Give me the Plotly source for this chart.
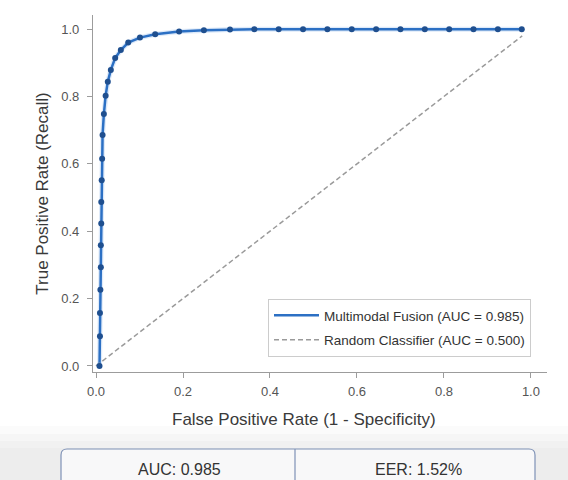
import plotly.graph_objects as go

# ---- data ----
fpr = [0.008, 0.009, 0.009, 0.010, 0.011, 0.011, 0.012, 0.012, 0.013, 0.014,
       0.015, 0.018, 0.022, 0.027, 0.034, 0.044, 0.057, 0.074, 0.101, 0.136,
       0.191, 0.248, 0.308, 0.364, 0.420, 0.476, 0.532, 0.588, 0.644, 0.700,
       0.756, 0.812, 0.868, 0.924, 0.979]
tpr = [0.000, 0.088, 0.157, 0.226, 0.293, 0.358, 0.423, 0.487, 0.551, 0.615,
       0.686, 0.748, 0.802, 0.844, 0.879, 0.914, 0.938, 0.960, 0.975, 0.985,
       0.993, 0.997, 0.999, 1.000, 1.000, 1.000, 1.000, 1.000, 1.000, 1.000,
       1.000, 1.000, 1.000, 1.000, 1.000]
diag_x = [0.0, 0.98]
diag_y = [0.0, 0.98]

fusion_name = "Multimodal Fusion (AUC = 0.985)"
random_name = "Random Classifier (AUC = 0.500)"
x_title = "False Positive Rate (1 - Specificity)"
y_title = "True Positive Rate (Recall)"
tick_vals = [0.0, 0.2, 0.4, 0.6, 0.8, 1.0]
metric_labels = ["AUC: 0.985", "EER: 1.52%"]

# ---- layout geometry (pixels) ----
W, H = 568, 480
L, R, T, B = 93, 547, 15, 372

def px(x):
    return (x - L) / (R - L)

def py(y):
    return (B - y) / (B - T)

FONT = "Arial, 'Liberation Sans', Helvetica, sans-serif"

fig = go.Figure()

# soft glow under the curve
fig.add_trace(go.Scatter(x=fpr, y=tpr, mode="lines", showlegend=False, hoverinfo="skip",
                         legendgroup="fusion",
                         line=dict(color="rgba(90,150,225,0.2)", width=5)))
fig.add_trace(go.Scatter(x=fpr, y=tpr, mode="lines", name=fusion_name, legendgroup="fusion",
                         line=dict(color="#2c70c4", width=2.5)))
fig.add_trace(go.Scatter(x=diag_x, y=diag_y, mode="lines", name=random_name,
                         legendgroup="random",
                         line=dict(color="#9a9a9a", width=1.5, dash="5px,3px")))
fig.add_trace(go.Scatter(x=fpr, y=tpr, mode="markers", showlegend=False, legendgroup="fusion",
                         marker=dict(color="#1f4f8f", size=6)))

axis_common = dict(showgrid=False, zeroline=False, showline=True, linecolor="#9c9c9c",
                   linewidth=1.2, ticks="outside", ticklen=5, tickcolor="#9c9c9c",
                   tickwidth=1, tickvals=tick_vals, tickformat=".1f",
                   tickfont=dict(family=FONT, size=13, color="#555555"))

fig.update_xaxes(range=[-0.007, 1.037], ticklabelstandoff=2, **axis_common)
fig.update_yaxes(range=[-0.018, 1.042], ticklabelstandoff=5,
                 title=dict(text=y_title, font=dict(family=FONT, size=17, color="#3a3a3a"),
                            standoff=8),
                 **axis_common)

# bottom grey band (light gradient)
shapes = []
band = [(426, 434, "#fbfbfb"), (434, 441, "#f6f6f6"), (441, 448, "#f1f1f1"), (448, 485, "#ededed")]
for y0, y1, c in band:
    shapes.append(dict(type="rect", xref="paper", yref="paper", x0=px(-5), x1=px(W + 5),
                       y0=py(y1), y1=py(y0), fillcolor=c, line=dict(width=0), layer="above"))

# rounded metrics box
bx0, bx1, by0, by1, r = 61, 535, 449, 490, 6
path = (f"M {px(bx0)},{py(by1)} L {px(bx0)},{py(by0 + r)} "
        f"Q {px(bx0)},{py(by0)} {px(bx0 + r)},{py(by0)} "
        f"L {px(bx1 - r)},{py(by0)} Q {px(bx1)},{py(by0)} {px(bx1)},{py(by0 + r)} "
        f"L {px(bx1)},{py(by1)} Z")
shapes.append(dict(type="path", xref="paper", yref="paper", path=path,
                   fillcolor="#f8f8f9", line=dict(color="#7f92b6", width=1.2), layer="above"))
shapes.append(dict(type="line", xref="paper", yref="paper", x0=px(295), x1=px(295),
                   y0=py(by0), y1=py(by1), line=dict(color="#7f92b6", width=1.2), layer="above"))

annotations = [
    dict(text=x_title, xref="paper", yref="paper", x=px(303.5), y=py(419),
         xanchor="center", yanchor="middle", showarrow=False,
         font=dict(family=FONT, size=17, color="#3a3a3a")),
    dict(text=metric_labels[0], xref="paper", yref="paper", x=px(179), y=py(469),
         xanchor="center", yanchor="middle", showarrow=False,
         font=dict(family=FONT, size=16, color="#333333")),
    dict(text=metric_labels[1], xref="paper", yref="paper", x=px(418), y=py(469),
         xanchor="center", yanchor="middle", showarrow=False,
         font=dict(family=FONT, size=16, color="#333333")),
]

fig.update_layout(
    width=W, height=H,
    margin=dict(l=L, r=W - R, t=T, b=H - B, autoexpand=False),
    paper_bgcolor="white", plot_bgcolor="white",
    font=dict(family=FONT, color="#333333"),
    showlegend=True,
    legend=dict(x=px(268), y=py(299), xanchor="left", yanchor="top",
                bgcolor="rgba(255,255,255,0.95)", bordercolor="#cccccc", borderwidth=1,
                font=dict(family=FONT, size=13.5, color="#333333"),
                itemwidth=45, tracegroupgap=4, traceorder="grouped"),
    shapes=shapes,
    annotations=annotations,
)

fig.write_html("out.html", config={"displayModeBar": False},
               post_script="document.body.style.margin='0';document.body.style.padding='0';")
